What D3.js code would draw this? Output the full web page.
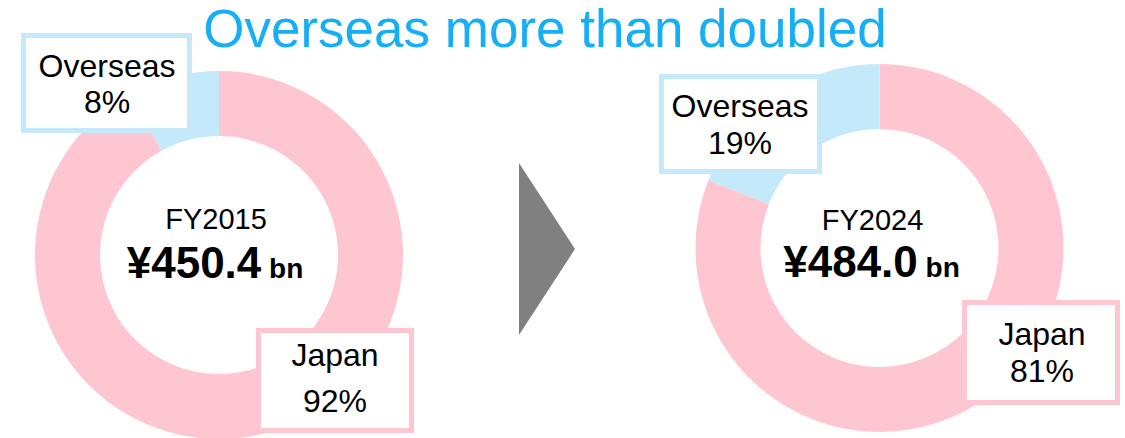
<!DOCTYPE html>
<html>
<head>
<meta charset="utf-8">
<script src="https://cdn.jsdelivr.net/npm/d3@7"></script>
<style>
  body { margin: 0; background: #fff; }
  text { font-family: Arial, "Liberation Sans", sans-serif; }
</style>
</head>
<body>
<div id="donut_chart"></div>
<script>
var width = 1125, height = 438;

// data
var years = ["FY2015", "FY2024"];
var totals = ["¥450.4", "¥484.0"];
var regions = ["Japan", "Overseas"];
var japanShare = [92, 81];
var overseasShare = [8, 19];

var chart_title = "Overseas more than doubled";

var colors = d3.scaleOrdinal()
    .domain(regions)
    .range(["#fec6d1", "#c4e9fb"]);

var svg = d3.select("#donut_chart")
    .append("svg")
    .attr("width", width)
    .attr("height", height);

// title
svg.append("text")
    .attr("x", 545)
    .attr("y", 47)
    .attr("text-anchor", "middle")
    .attr("font-size", 53)
    .attr("fill", "#16aef4")
    .text(chart_title);

// arrow between the two donuts
svg.append("path")
    .attr("d", "M519,163 L575,249 L519,335 Z")
    .attr("fill", "#808080");

var outerR = 184, innerR = 119;

// layout of each donut: center, center-text offsets, label boxes (x,y,w,h + text baselines)
var layout = [
  {cx: 219, cy: 255, tx: -3, ty: [-26, 23],
   over: {x: 23.5, y: 35.5, w: 166, h: 95, tx: 107, ty: [77, 113]},
   jap:  {x: 258.5, y: 330.5, w: 153, h: 100, tx: 335, ty: [366, 412]}},
  {cx: 879.5, cy: 248, tx: -7, ty: [-18, 29],
   over: {x: 661.5, y: 76.5, w: 158, h: 95, tx: 740, ty: [117, 154]},
   jap:  {x: 964.5, y: 302.5, w: 153, h: 100, tx: 1042, ty: [345, 382]}}
];

var pie = d3.pie()
    .sort(null)
    .value(function(d) { return d.value; });

var arc = d3.arc()
    .innerRadius(innerR)
    .outerRadius(outerR);

years.forEach(function(year, i) {
  var L = layout[i];
  var data = [
    {region: "Japan", value: japanShare[i]},
    {region: "Overseas", value: overseasShare[i]}
  ];

  var g = svg.append("g")
      .attr("transform", "translate(" + L.cx + "," + L.cy + ")");

  g.selectAll(".slice")
      .data(pie(data))
      .enter().append("path")
      .attr("class", "slice")
      .attr("d", arc)
      .attr("fill", function(d) { return colors(d.data.region); });

  // center text
  g.append("text")
      .attr("x", L.tx)
      .attr("y", L.ty[0])
      .attr("text-anchor", "middle")
      .attr("font-size", 29)
      .attr("fill", "#000")
      .text(year);

  var t = g.append("text")
      .attr("x", L.tx - 1)
      .attr("y", L.ty[1])
      .attr("text-anchor", "middle")
      .attr("font-weight", "bold")
      .attr("fill", "#000");
  t.append("tspan").attr("font-size", 44).text(totals[i]);
  t.append("tspan").attr("font-size", 28).text(" bn");

  // label boxes
  [["Overseas", overseasShare[i], L.over], ["Japan", japanShare[i], L.jap]].forEach(function(b) {
    var box = b[2];
    svg.append("rect")
        .attr("x", box.x)
        .attr("y", box.y)
        .attr("width", box.w)
        .attr("height", box.h)
        .attr("fill", "#fff")
        .attr("stroke", colors(b[0]))
        .attr("stroke-width", 5);
    svg.append("text")
        .attr("x", box.tx)
        .attr("y", box.ty[0])
        .attr("text-anchor", "middle")
        .attr("font-size", 32)
        .text(b[0]);
    svg.append("text")
        .attr("x", box.tx)
        .attr("y", box.ty[1])
        .attr("text-anchor", "middle")
        .attr("font-size", 32)
        .text(b[1] + "%");
  });
});
</script>
</body>
</html>
